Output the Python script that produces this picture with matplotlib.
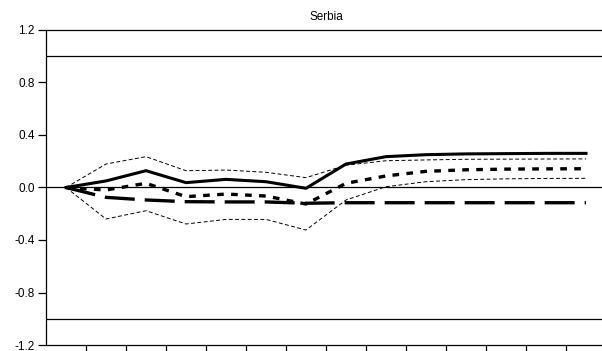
import matplotlib
matplotlib.use("Agg")
import matplotlib.pyplot as plt
import numpy as np

plt.rcParams['font.family'] = ['Liberation Sans', 'DejaVu Sans']

periods = np.arange(1, 15)
response = [0, 0.05, 0.128, 0.037, 0.062, 0.044, -0.006, 0.179, 0.235, 0.25, 0.256, 0.258, 0.26, 0.26]
upper = [0, 0.179, 0.235, 0.128, 0.133, 0.116, 0.075, 0.17, 0.204, 0.21, 0.215, 0.216, 0.217, 0.218]
lower = [0, -0.24, -0.177, -0.278, -0.243, -0.243, -0.324, -0.095, 0.006, 0.044, 0.06, 0.066, 0.069, 0.07]
alt_response = [0, -0.019, 0.032, -0.07, -0.05, -0.065, -0.126, 0.032, 0.088, 0.123, 0.135, 0.14, 0.142, 0.143]
long_run = [0, -0.075, -0.095, -0.108, -0.11, -0.11, -0.12, -0.116, -0.116, -0.116, -0.116, -0.116, -0.116, -0.116]
ref_levels = [1.0, 0.0, -1.0]
yticks = [1.2, 0.8, 0.4, 0.0, -0.4, -0.8, -1.2]

fig = plt.figure(figsize=(6.02, 3.51), dpi=100)
ax = fig.add_axes([46 / 602, 6 / 351, 560 / 602, 315 / 351])

for lv in ref_levels:
    ax.axhline(lv, color='black', lw=0.9)

ax.plot(periods, upper, color='black', lw=0.7, dashes=(4, 2.5))
ax.plot(periods, lower, color='black', lw=0.7, dashes=(4, 2.5))
ax.plot(periods, long_run, color='black', lw=2.4, dashes=(9, 3))
ax.plot(periods, alt_response, color='black', lw=2.4, dashes=(2, 2.2))
ax.plot(periods, response, color='black', lw=2.2)

ax.set_xlim(0.5, 14.5)
ax.set_ylim(-1.2, 1.2)
ax.set_yticks(yticks)
ax.set_yticklabels([f"{v:.1f}" for v in yticks])

ax.set_xticks([2.5, 6.5, 10.5])
ax.set_xticklabels([])
ax.set_xticks(np.arange(1.5, 14.5, 1.0), minor=True)
ax.tick_params(axis='x', which='major', length=7, width=0.9)
ax.tick_params(axis='x', which='minor', length=5, width=0.9)
ax.tick_params(axis='y', length=6, width=0.9, labelsize=8.5, pad=2)

ax.spines['right'].set_visible(False)
for s in ['top', 'left', 'bottom']:
    ax.spines[s].set_linewidth(0.9)

ax.set_title("Serbia", fontsize=8.5, pad=7)

fig.savefig("out.png", dpi=100)
